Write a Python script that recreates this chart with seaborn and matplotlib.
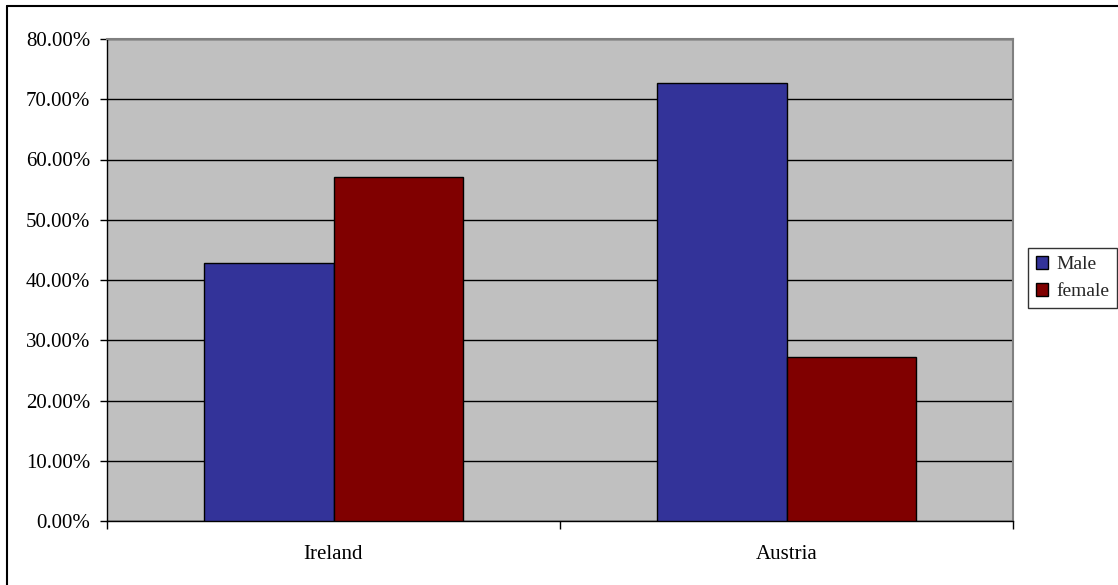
import matplotlib
matplotlib.use("Agg")
import matplotlib.pyplot as plt
from matplotlib.lines import Line2D
from matplotlib.ticker import FuncFormatter, MultipleLocator
import seaborn as sns
import pandas as pd

countries = ["Ireland", "Austria"]
genders = ["Male", "female"]
male_share = [42.86, 72.73]
female_share = [57.14, 27.27]
bar_colors = ["#333399", "#800000"]

df = pd.DataFrame({
    "country": countries * 2,
    "gender": [genders[0]] * len(countries) + [genders[1]] * len(countries),
    "share": male_share + female_share,
})

sns.set_theme(style="white")
plt.rcParams["font.family"] = ["Liberation Serif", "DejaVu Serif"]

FS = 15

fig = plt.figure(figsize=(11.18, 5.85), dpi=100)
ax = fig.add_axes([107 / 1118, 1 - 521 / 585, (1013 - 107) / 1118, (521 - 39) / 585])
ax.set_facecolor("#C0C0C0")

sns.barplot(data=df, x="country", y="share", hue="gender", hue_order=genders,
            palette=bar_colors, width=0.572, edgecolor="black", linewidth=1.0,
            saturation=1, ax=ax, zorder=3)

ax.set_ylim(0, 80)
ax.set_xlim(-0.5, len(countries) - 0.5)
ax.yaxis.set_major_locator(MultipleLocator(10))
ax.yaxis.set_major_formatter(FuncFormatter(lambda v, p: f"{v:.2f}%"))
ax.grid(axis="y", color="black", linewidth=1.0, zorder=0)
ax.grid(axis="x", visible=False)
ax.set_axisbelow(True)
ax.set_xlabel("")
ax.set_ylabel("")

# category boundary ticks on the x axis
ax.set_xticks([-0.5, 0.5, 1.5], minor=False)
ax.set_xticklabels([])
ax.set_xticks([0, 1], minor=True)
ax.set_xticklabels(countries, minor=True)
ax.tick_params(axis="x", which="major", direction="out", length=6, width=1, color="black")
ax.tick_params(axis="x", which="minor", length=0, pad=17, labelsize=FS, labelcolor="black")
ax.tick_params(axis="y", direction="out", length=5, width=1, color="black",
               labelsize=FS, labelcolor="black", pad=7)
ax.tick_params(left=True, bottom=True)

for side in ["left", "bottom"]:
    ax.spines[side].set_color("black")
    ax.spines[side].set_linewidth(1.0)
for side in ["top", "right"]:
    ax.spines[side].set_color("#808080")
    ax.spines[side].set_linewidth(1.5)

handles, labels = ax.get_legend_handles_labels()
if ax.legend_:
    ax.legend_.remove()
leg = fig.legend(handles, labels, loc="center left",
                 bbox_to_anchor=(1028 / 1118, 1 - 278 / 585),
                 frameon=True, fancybox=False, fontsize=14,
                 handlelength=0.65, handleheight=0.65, handletextpad=0.4,
                 borderpad=0.4, labelspacing=0.5, borderaxespad=0)
leg.get_frame().set_edgecolor("black")
leg.get_frame().set_linewidth(1.0)

# outer chart frame
fig.add_artist(Line2D([7 / 1118, 7 / 1118], [0, 1 - 6 / 585], transform=fig.transFigure,
                      color="black", linewidth=1.5))
fig.add_artist(Line2D([7 / 1118, 1], [1 - 6 / 585, 1 - 6 / 585], transform=fig.transFigure,
                      color="black", linewidth=1.5))

fig.savefig("out.png", dpi=100, facecolor="white")
